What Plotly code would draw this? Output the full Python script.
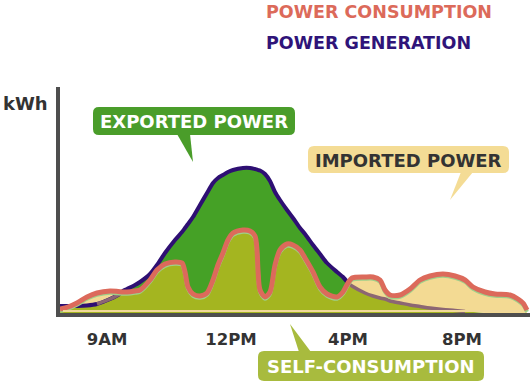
import numpy as np
import plotly.graph_objects as go

# ---- data (time position along the day, kWh in chart units) ----
time_pos = [0, 8, 17, 27, 37, 50, 58, 63, 67, 75, 80, 90, 97, 105, 115, 122, 125, 128,
            133, 140, 147, 153, 158, 163, 168, 173, 183, 190, 195, 197, 198, 200, 205,
            210, 215, 220, 227, 233, 240, 245, 253, 260, 267, 277, 283, 288, 292, 305,
            313, 320, 325, 330, 340, 350, 360, 370, 383, 395, 405, 413, 425, 435, 450,
            458, 463, 467]
consumption = [4, 6, 10, 16, 20, 22, 21.5, 21, 21, 22, 23, 33, 43, 49, 51, 50, 41, 26,
               19, 17, 20, 33, 48, 60, 73, 80, 83, 82, 77, 63, 43, 23, 16, 21, 48, 63, 69,
               68, 63, 55, 41, 26, 19, 16, 21, 30, 35, 36, 36, 33, 23, 18, 18, 24, 33, 37,
               39, 37, 33, 26, 21, 19, 18, 14, 10, 3]
generation = [7, 7, 7, 7.5, 9, 14, 18, 22, 24, 28, 31, 39, 48, 60, 73, 81, 85, 89, 96,
              108, 120, 130, 135, 138, 141, 143, 145, 145, 144, 143.5, 143, 142.5, 139,
              132, 121, 113, 103, 95, 85, 79, 68, 59, 50, 41, 36, 30, 27, 20, 17, 15,
              14, 12, 10, 8, 6.5, 5, 3.5, 2.5, 1.5, 1, 0, 0, 0, 0, 0, 0]

tick_pos = [47, 171, 288, 402]
tick_labels = ["9AM", "12PM", "4PM", "8PM"]

x = np.array(time_pos, dtype=float)
cons = np.array(consumption, dtype=float)
gen = np.array(generation, dtype=float)
selfc = np.minimum(cons, gen)

GREEN = "#45a126"
OLIVE = "#a4b520"
TAN = "#f3da93"
GEN_C = "#2e0f73"
GEN_MUTED = "#8c6673"
CONS_C = "#dc6a5b"
FONT = "DejaVu Sans"
SM = 0.8

fig = go.Figure()
# generation area (exported + self)
fig.add_trace(go.Scatter(x=x, y=gen, mode="lines", line=dict(width=0, shape="spline", smoothing=SM),
                         fill="tozeroy", fillcolor=GREEN, hoverinfo="skip"))
# self-consumption
fig.add_trace(go.Scatter(x=x, y=selfc, mode="lines", line=dict(width=0, shape="spline", smoothing=SM),
                         fill="tozeroy", fillcolor=OLIVE, hoverinfo="skip"))
# imported power: between min and consumption
fig.add_trace(go.Scatter(x=x, y=cons, mode="lines", line=dict(width=0, shape="spline", smoothing=SM),
                         fill="tonexty", fillcolor=TAN, hoverinfo="skip"))

# generation line: bright while above consumption, muted where under import area
cross = int(np.where(x >= 288)[0][0])
endg = int(np.where(x >= 400)[0][0])
fig.add_trace(go.Scatter(x=x[:cross + 1], y=gen[:cross + 1], mode="lines",
                         line=dict(color=GEN_C, width=4, shape="spline", smoothing=SM), hoverinfo="skip"))
fig.add_trace(go.Scatter(x=x[cross:endg + 1], y=gen[cross:endg + 1], mode="lines",
                         line=dict(color=GEN_MUTED, width=3.5, shape="spline", smoothing=SM), hoverinfo="skip"))
s0 = int(np.where(x >= 37)[0][0]); s1 = int(np.where(x >= 63)[0][0])
fig.add_trace(go.Scatter(x=x[s0:s1 + 1], y=gen[s0:s1 + 1], mode="lines",
                         line=dict(color=GEN_MUTED, width=3.5, shape="spline", smoothing=SM), hoverinfo="skip"))

# consumption line with thin light halo
fig.add_trace(go.Scatter(x=x, y=cons - 1.8, mode="lines",
                         line=dict(color="#9fd08a", width=4, shape="spline", smoothing=SM), hoverinfo="skip"))
fig.add_trace(go.Scatter(x=x, y=cons, mode="lines",
                         line=dict(color=CONS_C, width=5, shape="spline", smoothing=SM), hoverinfo="skip"))


def px(v):
    return (v - 60) / 470.0


def py(v):
    return (313 - v) / 226.0


def rrect(x0, y0, x1, y1, r):
    pts = [("M", x0 + r, y0), ("L", x1 - r, y0), ("Q", x1, y0, x1, y0 + r), ("L", x1, y1 - r),
           ("Q", x1, y1, x1 - r, y1), ("L", x0 + r, y1), ("Q", x0, y1, x0, y1 - r),
           ("L", x0, y0 + r), ("Q", x0, y0, x0 + r, y0)]
    s = ""
    for p in pts:
        if p[0] == "Q":
            s += f"Q{px(p[1]):.5f},{py(p[2]):.5f} {px(p[3]):.5f},{py(p[4]):.5f} "
        else:
            s += f"{p[0]}{px(p[1]):.5f},{py(p[2]):.5f} "
    return s + "Z"


def tri(a, b, c):
    return f"M{px(a[0]):.5f},{py(a[1]):.5f} L{px(b[0]):.5f},{py(b[1]):.5f} L{px(c[0]):.5f},{py(c[1]):.5f} Z"


shapes = [
    # thin tan strip along the baseline
    dict(type="line", xref="paper", yref="paper", x0=px(63), x1=px(521), y0=py(311), y1=py(311),
         line=dict(color="#f0d89a", width=2), layer="above"),
]
boxes = [
    ((93, 107, 295, 135), [(177, 134), (193, 162), (190, 134)], "#4a9d2a", "EXPORTED POWER", "white"),
    ((308, 146, 509, 173), [(461, 172), (450, 200), (473, 172)], "#f4dc95", "IMPORTED POWER", "#333333"),
    ((258, 351, 484, 381), [(299, 352), (290, 324), (311, 352)], "#a8bb3e", "SELF-CONSUMPTION", "white"),
]
annotations = []
for (x0, y0, x1, y1), t, col, txt, tc in boxes:
    shapes.append(dict(type="path", xref="paper", yref="paper", path=rrect(x0, y0, x1, y1, 6),
                       fillcolor=col, line=dict(width=0), layer="above"))
    shapes.append(dict(type="path", xref="paper", yref="paper", path=tri(*t),
                       fillcolor=col, line=dict(width=0), layer="above"))
    annotations.append(dict(xref="paper", yref="paper", x=px((x0 + x1) / 2), y=py((y0 + y1) / 2 + 0.5),
                            text=txt, showarrow=False, xanchor="center", yanchor="middle",
                            font=dict(family=FONT, size=18, color=tc, weight="bold")))

annotations += [
    dict(xref="paper", yref="paper", x=px(264), y=py(12), text="POWER CONSUMPTION", showarrow=False,
         xanchor="left", yanchor="middle", font=dict(family=FONT, size=17.5, color="#dc6a5a", weight="bold")),
    dict(xref="paper", yref="paper", x=px(264), y=py(43), text="POWER GENERATION", showarrow=False,
         xanchor="left", yanchor="middle", font=dict(family=FONT, size=17.5, color="#2f1479", weight="bold")),
    dict(xref="paper", yref="paper", x=px(1), y=py(103), text="kWh", showarrow=False,
         xanchor="left", yanchor="middle", font=dict(family=FONT, size=18, color="#333333", weight="bold")),
]

fig.update_layout(
    width=530, height=385, margin=dict(l=60, r=0, t=87, b=72),
    paper_bgcolor="white", plot_bgcolor="white", showlegend=False,
    shapes=shapes, annotations=annotations,
    xaxis=dict(range=[0, 470], showgrid=False, zeroline=False, showline=True, linewidth=4,
               linecolor="#4e4e4e", tickvals=tick_pos, ticktext=tick_labels, ticks="outside",
               ticklen=8, tickcolor="rgba(0,0,0,0)",
               tickfont=dict(family=FONT, size=16.5, color="#333333", weight="bold"), fixedrange=True),
    yaxis=dict(range=[0, 226], showgrid=False, zeroline=False, showline=True, linewidth=4,
               linecolor="#4e4e4e", showticklabels=False, ticks="", fixedrange=True),
)

fig.write_html("out.html", config={"displayModeBar": False},
               post_script="document.body.style.margin='0';document.body.style.padding='0';")
